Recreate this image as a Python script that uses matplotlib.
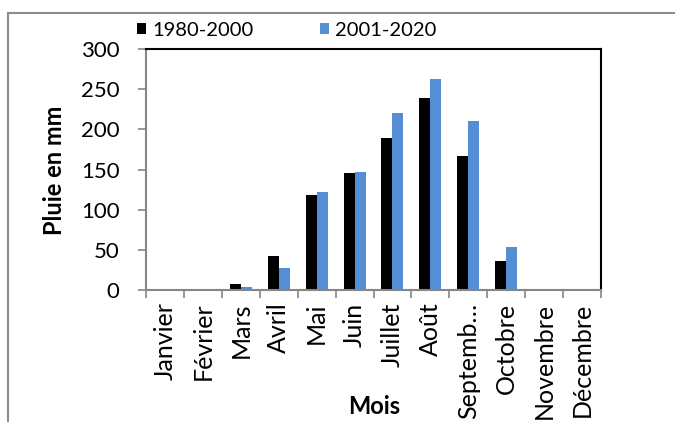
import matplotlib
matplotlib.use("Agg")
import matplotlib.pyplot as plt
import numpy as np
from matplotlib.lines import Line2D

months = ["Janvier", "Février", "Mars", "Avril", "Mai", "Juin", "Juillet",
          "Août", "Septemb…", "Octobre", "Novembre", "Décembre"]
rain_1980_2000 = [0, 1, 7.5, 42, 118, 146, 189, 239, 167, 36, 0, 0]
rain_2001_2020 = [0, 0, 4, 28, 122, 147, 220, 263, 210, 54, 0, 0]
series_labels = ["1980-2000", "2001-2020"]
yticks = [0, 50, 100, 150, 200, 250, 300]

plt.rcParams["font.family"] = ["Lato", "DejaVu Sans"]

W, H = 675, 422
fig = plt.figure(figsize=(W / 100, H / 100), dpi=100)
ax = fig.add_axes([146 / W, 1 - 290 / H, (601 - 146) / W, (290 - 49) / H])

x = np.arange(len(months))
bw = 0.29
ax.bar(x - bw / 2, rain_1980_2000, width=bw, color="black", label=series_labels[0])
ax.bar(x + bw / 2, rain_2001_2020, width=bw, color="#558ed5", label=series_labels[1])

ax.set_xlim(-0.5, len(months) - 0.5)
ax.set_ylim(0, 300)
ax.set_yticks(yticks)
ax.set_yticklabels([str(v) for v in yticks], fontsize=16)

# month names centred in each slot, tick marks on slot boundaries
ax.set_xticks(x)
ax.set_xticklabels(months, rotation=90, fontsize=18)
ax.tick_params(axis="x", length=0, pad=9)
ax.set_xticks(np.arange(-0.5, len(months)), minor=True)
ax.tick_params(axis="x", which="minor", length=6, color="#868686", width=1.2, direction="out")
ax.tick_params(axis="y", length=6, color="#868686", width=1.2, direction="out", pad=13)

for side in ("left", "bottom"):
    ax.spines[side].set_color("#868686")
    ax.spines[side].set_linewidth(1.5)
for side in ("top", "right"):
    ax.spines[side].set_color("black")
    ax.spines[side].set_linewidth(1.5)

fig.text(55 / W, 1 - 170 / H, "Pluie en mm", rotation=90, ha="center", va="center",
         fontsize=17, fontweight="bold")
fig.text(374 / W, 1 - 414 / H, "Mois", ha="center", va="baseline",
         fontsize=17, fontweight="bold")

handles, labels = ax.get_legend_handles_labels()
fig.legend(handles, labels, loc="center", bbox_to_anchor=(287 / W, 1 - 30 / H), ncol=2,
           frameon=False, fontsize=14.5, handlelength=0.45, handleheight=0.45,
           handletextpad=0.3, columnspacing=3.3, borderpad=0.0)

# outer chart frame
fig.add_artist(Line2D([8 / W, 8 / W], [0, 1 - 13 / H], color="#8c8c8c", lw=1.5,
                      transform=fig.transFigure))
fig.add_artist(Line2D([8 / W, 1], [1 - 13 / H, 1 - 13 / H], color="#8c8c8c", lw=1.5,
                      transform=fig.transFigure))

fig.savefig("out.png", dpi=100)
